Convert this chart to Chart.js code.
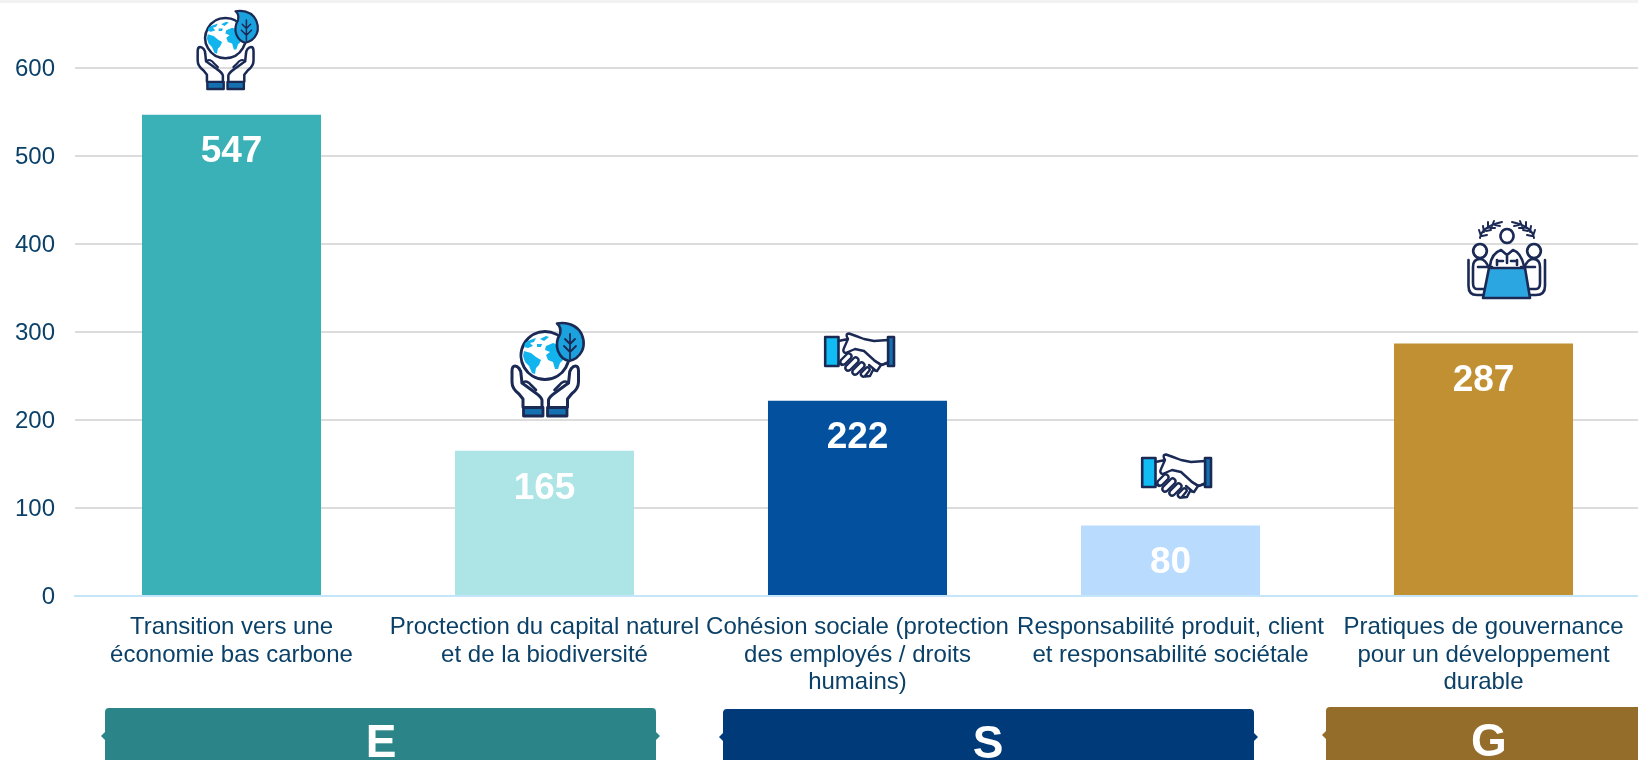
<!DOCTYPE html>
<html lang="fr">
<head>
<meta charset="utf-8">
<title>Répartition ESG</title>
<script src="https://cdn.jsdelivr.net/npm/chart.js@4"></script>
<style>
  html, body { margin: 0; padding: 0; background: #fff; overflow: hidden; }
  #wrap { width: 1638px; height: 760px; overflow: hidden; position: relative; }
  #strip { position: absolute; left: 0; top: 0; width: 100%; height: 3px; background: #f2f2f2; }
  canvas { display: block; }
</style>
</head>
<body>
<div id="wrap">
  <canvas id="chart" width="1640" height="760"></canvas>
  <div id="strip"></div>
</div>
<script>
const categories = [
  ["Transition vers une", "économie bas carbone"],
  ["Proctection du capital naturel", "et de la biodiversité"],
  ["Cohésion sociale (protection", "des employés / droits", "humains)"],
  ["Responsabilité produit, client", "et responsabilité sociétale"],
  ["Pratiques de gouvernance", "pour un développement", "durable"],
];
const values = [547, 165, 222, 80, 287];
const barColors = ["#3ab1b6", "#ade4e5", "#03509f", "#b9dbfe", "#c09032"];
const yTicks = [0, 100, 200, 300, 400, 500, 600];
const groupLetters = ["E", "S", "G"];
const groupColors = ["#2b8588", "#003a78", "#946d2a"];

const NAVY = "#1b2a55";
const TEXT = "#0b4168";
const FONT = '"Liberation Sans", Arial, sans-serif';

// icon placement: kind, left, top, scale
const iconSpots = [
  ["globe", 196, 10, 0.84],
  ["globe", 510, 322, 1],
  ["shake", 824, 332, 1],
  ["shake", 1141, 453, 1],
  ["meeting", 1467, 217, 1],
];
// header boxes: left, right, top
const groupBoxes = [
  [105, 656, 708],
  [723, 1254, 709],
  [1326, 1700, 707],
];
const groupLetterX = [381, 988, 1489];

function strokeFill(ctx, d, fill, width) {
  const p = new Path2D(d);
  if (fill) {
    ctx.fillStyle = fill;
    ctx.fill(p);
  }
  if (width) {
    ctx.strokeStyle = NAVY;
    ctx.lineWidth = width;
    ctx.lineJoin = "round";
    ctx.lineCap = "round";
    ctx.stroke(p);
  }
}

function drawGlobe(ctx) {
  strokeFill(ctx, "M35 9.5a24 24 0 1 0 .01 0Z", "#fff", 3);
  const lands = [
    "M15 21c4-3 8-4 11-5l-2 4-4 1 3 3-5 2-4-1Z",
    "M14 29l7 2 5 4 5 3-2 5-3 3-1 6-3-1-3-7-4-4-2-6Z",
    "M30 17l6-3 3 1-5 4Z",
    "M36 24l7-3 6 2 2 5 4 5-2 5-3 3-2 6-3 0-2-7-5-2-2-5 4-3-5-2Z",
    "M27 22l5 0-1 3-4 0Z",
  ];
  lands.forEach((d) => strokeFill(ctx, d, "#12b4ee", 0));
  // leaf
  strokeFill(ctx, "M47 1.5C55 0 64 2 69 8c5 6 6 15 3 21-3 6-8 9-13 10-5-1-9-5-11-10-2-6-1-12 2-17 1-4 0-8-3-10.5Z", "#1ba1dd", 2.6);
  strokeFill(ctx, "M60 12L60 37M60 22l-5-5M60 22l5-5M60 30l-6-6M60 30l6-6", null, 1.8);
  // hands
  const hand = "M32 85V78C31 74 27 72 23 69L12 61 11 52C11 48 8 44 5 44 3 44 2 46 2 49V60C2 65 5 69 9 72L13 77V85";
  const thumb = "M12 61C15 58 19 60 21 63L26 68";
  strokeFill(ctx, hand, null, 3);
  strokeFill(ctx, thumb, null, 2.6);
  strokeFill(ctx, "M13.5 85.5H33V94H13.5Z", "#1470ae", 2.8);
  ctx.save();
  ctx.translate(70.5, 0);
  ctx.scale(-1, 1);
  strokeFill(ctx, hand, null, 3);
  strokeFill(ctx, thumb, null, 2.6);
  strokeFill(ctx, "M13.5 85.5H33V94H13.5Z", "#1470ae", 2.8);
  ctx.restore();
}

function drawShake(ctx) {
  strokeFill(ctx, "M1.2 5H14.5V34H1.2Z", "#0fbdf4", 2.6);
  strokeFill(ctx, "M64 5H70V34H64Z", "#1470ae", 2.6);
  // upper hand
  strokeFill(ctx, "M14.5 9L24 7C22 4 22 1.5 25 1.5L32 4 40 7 50 9 64 8V30L58 33 51 29 40 19 31 17 24 20C21 22 18 20 20 16L24 7", "#fff", 2.4);
  // lower fingers
  const fingers = [
    "M17 28l6-6c2-2 6 1 4 4l-6 6c-3 2-6-1-4-4Z",
    "M22 34l8-8c2-2 6 1 4 4l-8 8c-3 2-6-1-4-4Z",
    "M29 38l7-7c2-2 6 1 4 4l-7 7c-3 2-6-1-4-4Z",
    "M37 41l5-5c2-2 5 1 3 3l-4 5c-2 2-5-1-4-3Z",
  ];
  fingers.forEach((d) => strokeFill(ctx, d, "#fff", 2.4));
  strokeFill(ctx, "M14.5 31L18 33M64 31L57 33 53 39 49 38 46 44 41 44.5M51 29L57 33M45 33L51 38", null, 2.4);
}

function drawMeeting(ctx) {
  // laurels
  strokeFill(ctx, "M13 21C14 14 21 8 35 5M14 19l-2-6M17 15l-1-6M21 11l0-6M25 9l2-5M15 19l5-1M19 14l5-1M23 11l5 0M28 8l5 1", null, 2);
  strokeFill(ctx, "M67 21C66 14 59 8 45 5M66 19l2-6M63 15l1-6M59 11l0-6M55 9l-2-5M65 19l-5-1M61 14l-5-1M57 11l-5 0M52 8l-5 1", null, 2);
  // heads
  strokeFill(ctx, "M40 12a6.5 7 0 1 0 .01 0Z", "#fff", 2.6);
  strokeFill(ctx, "M13 27a6.8 7 0 1 0 .01 0Z", "#fff", 2.6);
  strokeFill(ctx, "M67 27a6.8 7 0 1 0 .01 0Z", "#fff", 2.6);
  // chairs
  strokeFill(ctx, "M1.5 43V69C1.5 75 4 78 10 78H17", null, 2.6);
  strokeFill(ctx, "M78 43V69C78 75 75 78 69 78H62", null, 2.6);
  // side bodies
  strokeFill(ctx, "M18 72H10C7 72 6 69 6 66V50C6 44 9 42 13 42 17 42 20 46 22 51", null, 2.6);
  strokeFill(ctx, "M61 72H69C72 72 73 69 73 66V50C73 44 70 42 66 42 62 42 59 46 57 51", null, 2.6);
  // centre person
  strokeFill(ctx, "M23 49C24 40 28 35 34 33L40 38 46 33C52 35 55 40 57 49M40 38V46M30 48V43M50 48V43M30 44H36M50 44H44", null, 2.6);
  // table
  strokeFill(ctx, "M22 51H58L63 81H16Z", "#2ba6e0", 2.6);
  strokeFill(ctx, "M11 50H25M54 50H68", null, 2.6);
}

const iconDraw = { globe: drawGlobe, shake: drawShake, meeting: drawMeeting };

function boxPath(ctx, left, right, top, bottom) {
  const r = 4;
  const mid = top + 28;
  ctx.beginPath();
  ctx.moveTo(left + r, top);
  ctx.lineTo(right - r, top);
  ctx.quadraticCurveTo(right, top, right, top + r);
  ctx.lineTo(right, mid - 4);
  ctx.lineTo(right + 4, mid);
  ctx.lineTo(right, mid + 4);
  ctx.lineTo(right, bottom);
  ctx.lineTo(left, bottom);
  ctx.lineTo(left, mid + 4);
  ctx.lineTo(left - 4, mid);
  ctx.lineTo(left, mid - 4);
  ctx.lineTo(left, top + r);
  ctx.quadraticCurveTo(left, top, left + r, top);
  ctx.closePath();
}

const decorPlugin = {
  id: "decor",
  afterDatasetsDraw(chart) {
    const ctx = chart.ctx;
    const bars = chart.getDatasetMeta(0).data;

    // value labels inside the bars
    ctx.save();
    ctx.fillStyle = "#fff";
    ctx.font = `bold 37px ${FONT}`;
    ctx.textAlign = "center";
    ctx.textBaseline = "middle";
    bars.forEach((bar, i) => {
      ctx.fillText(String(values[i]), bar.x, bar.y + 37.5);
    });
    ctx.restore();

    iconSpots.forEach(([kind, x, y, s]) => {
      ctx.save();
      ctx.translate(x, y);
      ctx.scale(s, s);
      iconDraw[kind](ctx);
      ctx.restore();
    });

    // E / S / G header boxes
    groupLetters.forEach((letter, i) => {
      const [left, right, top] = groupBoxes[i];
      ctx.save();
      ctx.fillStyle = groupColors[i];
      boxPath(ctx, left, right, top, 770);
      ctx.fill();
      ctx.fillStyle = "#fff";
      ctx.font = `bold 46px ${FONT}`;
      ctx.textAlign = "center";
      ctx.textBaseline = "alphabetic";
      ctx.fillText(letter, groupLetterX[i], top + 49);
      ctx.restore();
    });
  },
};

new Chart(document.getElementById("chart"), {
  type: "bar",
  data: {
    labels: categories,
    datasets: [
      {
        data: values,
        backgroundColor: barColors,
        borderWidth: 0,
        categoryPercentage: 1,
        barPercentage: 0.572,
      },
    ],
  },
  options: {
    responsive: false,
    animation: false,
    layout: { padding: { top: 68, left: 0, right: 0, bottom: 0 } },
    plugins: {
      legend: { display: false },
      tooltip: { enabled: false },
    },
    scales: {
      x: {
        grid: { display: false },
        border: { display: true, color: "#c5e5fb", width: 2 },
        afterFit(scale) {
          scale.height = 164;
        },
        ticks: {
          color: TEXT,
          padding: 10,
          maxRotation: 0,
          autoSkip: false,
          font: { family: FONT, size: 24, lineHeight: 1.14 },
        },
      },
      y: {
        min: 0,
        max: 600,
        afterFit(scale) {
          scale.width = 75;
          // tick labels sit a touch below their gridline in the reference
          if (!scale.shiftedLabels) {
            scale.shiftedLabels = true;
            const compute = scale._computeLabelItems.bind(scale);
            scale._computeLabelItems = (area) =>
              compute(area).map((item) => ({
                ...item,
                options: {
                  ...item.options,
                  translation: [item.options.translation[0] + 1, item.options.translation[1] + 1.5],
                },
              }));
          }
        },
        afterBuildTicks(scale) {
          scale.ticks = yTicks.map((v) => ({ value: v }));
        },
        grid: {
          color: (c) => (c.tick.value === 0 ? "rgba(0,0,0,0)" : "#dcdcdc"),
          lineWidth: 2,
          drawTicks: false,
        },
        border: { display: false },
        ticks: {
          color: TEXT,
          padding: 21,
          font: { family: FONT, size: 24 },
        },
      },
    },
  },
  plugins: [decorPlugin],
});
</script>
</body>
</html>
